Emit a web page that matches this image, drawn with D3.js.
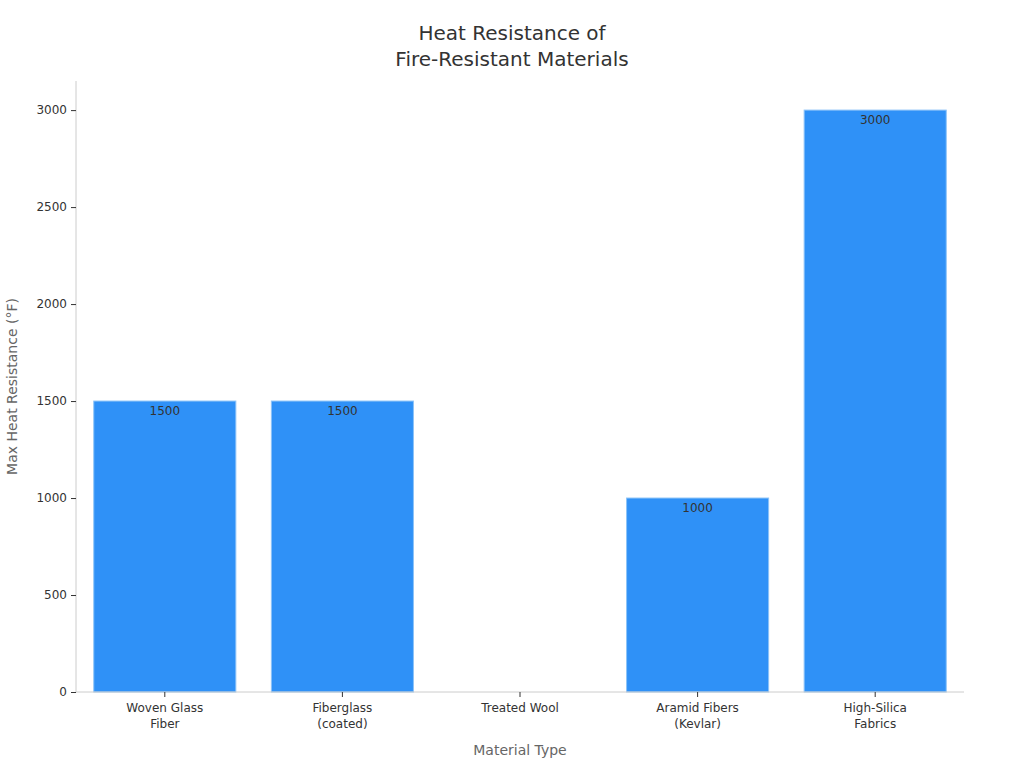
<!DOCTYPE html>
<html>
<head>
<meta charset="utf-8">
<script src="https://cdn.jsdelivr.net/npm/d3@7"></script>
<style>
html,body{margin:0;padding:0;background:#fff;}
text{font-family:"DejaVu Sans",sans-serif;}
</style>
</head>
<body>
<svg id="chart" width="1024" height="768"></svg>
<script>
const categories = [["Woven Glass","Fiber"],["Fiberglass","(coated)"],["Treated Wool"],["Aramid Fibers","(Kevlar)"],["High-Silica","Fabrics"]];
const values = [1500, 1500, null, 1000, 3000];
const yTicks = [0, 500, 1000, 1500, 2000, 2500, 3000];
const titleLines = ["Heat Resistance of", "Fire-Resistant Materials"];

const svg = d3.select("#chart");
const m = {left:76, right:964, top:81, bottom:692};
const keys = categories.map(c => c.join(" "));
const x = d3.scaleBand().domain(keys).range([m.left, m.right]).paddingInner(0.2).paddingOuter(0.1);
const y = d3.scaleLinear().domain([0, 3150]).range([m.bottom, m.top]);

// title
svg.append("text").attr("x", 512).attr("y", 40).attr("text-anchor","middle")
  .attr("font-size", 20).attr("fill","#333")
  .selectAll("tspan").data(titleLines).join("tspan")
  .attr("x", 512).attr("dy", (d,i)=> i===0?0:26).text(d=>d);

// bars
const data = keys.map((k,i)=>({k, v: values[i]}));
svg.append("g").selectAll("rect").data(data.filter(d=>d.v!=null)).join("rect")
  .attr("x", d=>x(d.k)).attr("width", x.bandwidth())
  .attr("y", d=>y(d.v)).attr("height", d=>y(0)-y(d.v))
  .attr("fill","#2f91f7").attr("stroke","#8cc3f8").attr("stroke-width",1);

svg.append("g").selectAll("text").data(data.filter(d=>d.v!=null)).join("text")
  .attr("x", d=>x(d.k)+x.bandwidth()/2).attr("y", d=>y(d.v)+14)
  .attr("text-anchor","middle").attr("font-size",12).attr("fill","#333")
  .text(d=>d.v);

// y axis
const ya = svg.append("g").attr("transform",`translate(${m.left},0)`)
  .call(d3.axisLeft(y).tickValues(yTicks).tickFormat(d3.format("d")).tickSize(5).tickPadding(4));
ya.select(".domain").attr("stroke","#ccc").attr("d", `M0,${m.top}V${m.bottom}`);
ya.selectAll(".tick line").attr("stroke","#333");
ya.selectAll(".tick text").attr("font-size",12).attr("fill","#333").attr("font-family","DejaVu Sans");

// x axis
const xa = svg.append("g").attr("transform",`translate(0,${m.bottom})`)
  .call(d3.axisBottom(x).tickSize(5).tickFormat(""));
xa.select(".domain").attr("stroke","#ccc").attr("d", `M${m.left},0H${m.right}`);
xa.selectAll(".tick line").attr("stroke","#333");
xa.selectAll(".tick").each(function(d,i){
  const t = d3.select(this).append("text").attr("fill","#333").attr("font-size",12)
    .attr("text-anchor","middle").attr("font-family","DejaVu Sans").attr("y", 20);
  categories[i].forEach((line,j)=>{
    t.append("tspan").attr("x",0).attr("dy", j===0?0:16).text(line);
  });
});

// axis labels
svg.append("text").attr("x", (m.left+m.right)/2).attr("y", 755).attr("text-anchor","middle")
  .attr("font-size",14).attr("fill","#666").text("Material Type");
svg.append("text").attr("transform",`translate(17,${(m.top+m.bottom)/2}) rotate(-90)`)
  .attr("text-anchor","middle").attr("font-size",14).attr("fill","#666")
  .text("Max Heat Resistance (°F)");
</script>
</body>
</html>
